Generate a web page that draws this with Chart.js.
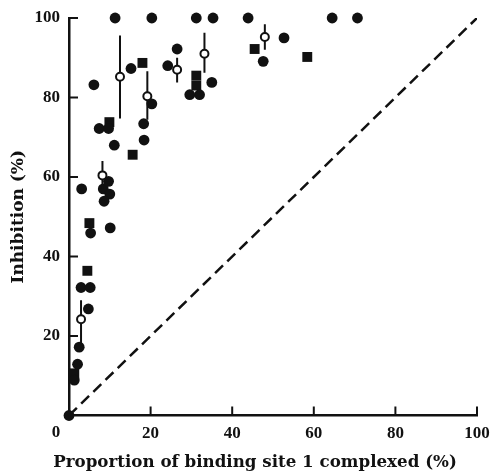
<!DOCTYPE html>
<html>
<head>
<meta charset="utf-8">
<script src="https://cdn.jsdelivr.net/npm/chart.js@4.4.1/dist/chart.umd.min.js"></script>
<style>
  html, body { margin: 0; padding: 0; background: #fff; }
  #wrap { width: 491px; height: 473px; }
</style>
</head>
<body>
<div id="wrap"><canvas id="grafic" width="491" height="473"></canvas></div>
<script>
// ---------------------------------------------------------
// Dades llegides del gràfic (percentatges)
// ---------------------------------------------------------
const puntsX = [0, 1.3, 2.1, 2.5, 2.95, 5.2, 4.75, 5.3, 10.1, 3.1, 8.4, 9.7, 10.0, 8.6,
                7.4, 9.7, 11.1, 18.4, 18.3, 20.3, 15.2, 6.1, 11.3, 20.3, 31.2, 35.3,
                43.9, 26.5, 24.2, 29.6, 32.0, 35.0, 52.7, 47.6, 64.5, 70.7];
const puntsY = [0, 8.9, 12.9, 17.2, 32.2, 32.2, 26.8, 45.9, 47.2, 57, 57, 58.9, 55.7, 53.9,
                72.2, 72.2, 68, 69.3, 73.4, 78.4, 87.3, 83.2, 100, 100, 100, 100,
                100, 92.2, 88, 80.7, 80.7, 83.8, 95, 89.1, 100, 100];

const quadratsX = [1.3, 4.5, 5.0, 9.9, 15.6, 18.0, 31.2, 31.2, 45.5, 58.4];
const quadratsY = [10.6, 36.4, 48.4, 73.8, 65.6, 88.7, 85.5, 83.0, 92.2, 90.2];

const obertsX = [2.95, 8.2, 12.5, 19.2, 26.5, 33.2, 48.0];
const obertsY = [24.2, 60.4, 85.2, 80.3, 87.0, 91.0, 95.2];
const errorMin = [18, 57, 74.7, 74.4, 83.8, 86.2, 92];
const errorMax = [29, 64, 95.6, 86.6, 90, 96.3, 98.4];

const diagonalX = [0, 100];
const diagonalY = [0, 100];

const ticsX = [0, 20, 40, 60, 80, 100];
const ticsY = [20, 40, 60, 80, 100];

const titolX = 'Proportion of binding site 1 complexed (%)';
const titolY = 'Inhibition (%)';

// ---------------------------------------------------------
// Construcció dels datasets
// ---------------------------------------------------------
const aParelles = (xs, ys) => xs.map((x, i) => ({ x: x, y: ys[i] }));

// barres d'error: un segment per punt, separats amb null
const barresError = [];
obertsX.forEach((x, i) => {
    barresError.push({ x: x, y: errorMin[i] });
    barresError.push({ x: x, y: errorMax[i] });
    barresError.push({ x: x, y: null });
});

const TINTA = '#111';
const serif = "'DejaVu Serif', serif";
const serifTics = "'Liberation Serif', serif";

// Marques interiors dels eixos, etiqueta "0" i títol X (desplaçats com a l'original)
const ticsInteriors = {
    id: 'ticsInteriors',
    beforeDatasetsDraw(chart) {
        const { ctx, scales: { x, y } } = chart;
        ctx.save();
        ctx.strokeStyle = TINTA;
        ctx.lineWidth = 2;
        ticsX.forEach(v => {
            if (v === 0) return;
            const px = x.getPixelForValue(v);
            ctx.beginPath();
            ctx.moveTo(px, y.bottom);
            ctx.lineTo(px, y.bottom - 9);
            ctx.stroke();
        });
        ticsY.forEach(v => {
            const py = y.getPixelForValue(v);
            ctx.beginPath();
            ctx.moveTo(x.left, py);
            ctx.lineTo(x.left + 9, py);
            ctx.stroke();
        });
        ctx.fillStyle = TINTA;
        ctx.font = "bold 17px " + serifTics;
        ctx.textAlign = 'center';
        ctx.textBaseline = 'middle';
        ctx.fillText('0', x.getPixelForValue(0) - 13, x.top + 17);

        ctx.font = "bold 16.7px " + serif;
        ctx.textBaseline = 'alphabetic';
        ctx.fillText(titolX, (x.left + x.right) / 2 - 18, 467);
        ctx.restore();
    }
};

new Chart(document.getElementById('grafic').getContext('2d'), {
    type: 'scatter',
    data: {
        datasets: [
            {
                label: 'oberts', data: aParelles(obertsX, obertsY), order: 0, clip: false,
                pointStyle: 'circle', pointRadius: 4, borderWidth: 2,
                backgroundColor: '#fff', borderColor: TINTA
            },
            {
                label: 'error', data: barresError, type: 'line', order: 1, clip: false,
                showLine: true, spanGaps: false, pointRadius: 0,
                borderColor: TINTA, borderWidth: 2
            },
            {
                label: 'punts', data: aParelles(puntsX, puntsY), order: 2, clip: false,
                pointStyle: 'circle', pointRadius: 5.4, borderWidth: 0,
                backgroundColor: TINTA
            },
            {
                label: 'quadrats', data: aParelles(quadratsX, quadratsY), order: 2, clip: false,
                pointStyle: 'rect', pointRadius: 7, borderWidth: 0,
                backgroundColor: TINTA
            },
            {
                label: 'diagonal', data: aParelles(diagonalX, diagonalY), type: 'line', order: 5,
                showLine: true, pointRadius: 0, borderColor: TINTA, borderWidth: 2.5,
                borderDash: [11, 6]
            }
        ]
    },
    options: {
        responsive: false,
        animation: false,
        layout: { padding: { top: 18, right: 14, left: 0, bottom: 0 } },
        plugins: { legend: { display: false }, tooltip: { enabled: false } },
        scales: {
            x: {
                type: 'linear', min: 0, max: 100,
                afterBuildTicks: s => { s.ticks = ticsX.map(v => ({ value: v })); },
                afterFit: s => { s.height = 57.5; s.paddingLeft = 0; s.paddingRight = 0; },
                grid: { display: false, drawTicks: false },
                border: { display: true, color: TINTA, width: 2.5 },
                ticks: {
                    color: TINTA, padding: 8, maxRotation: 0, autoSkip: false,
                    font: { family: serifTics, size: 17, weight: 'bold' },
                    callback: v => (v === 0 ? '' : v)
                },
                title: { display: false }
            },
            y: {
                type: 'linear', min: 0, max: 100,
                afterBuildTicks: s => { s.ticks = ticsY.map(v => ({ value: v })); },
                afterFit: s => { s.width = 69; s.paddingTop = 0; s.paddingBottom = 0; },
                grid: { display: false, drawTicks: false },
                border: { display: true, color: TINTA, width: 2.5 },
                ticks: {
                    color: TINTA, padding: 9, autoSkip: false,
                    font: { family: serifTics, size: 17, weight: 'bold' }
                },
                title: {
                    display: true, text: titolY,
                    color: TINTA, padding: { top: 8, bottom: 0 },
                    font: { family: serif, size: 17, weight: 'bold' }
                }
            }
        }
    },
    plugins: [ticsInteriors]
});
</script>
</body>
</html>
